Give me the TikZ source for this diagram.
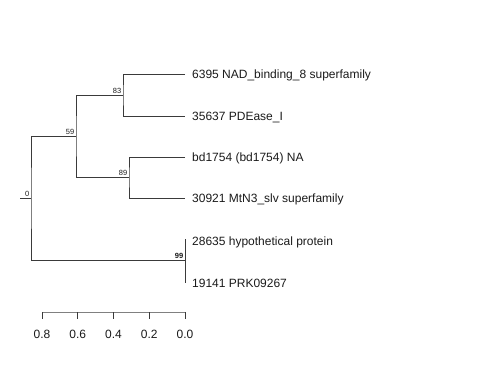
\documentclass[tikz,border=0pt]{standalone}
\usepackage{fontspec}
\setmainfont{Liberation Sans}
\usepackage{tikz}
\usetikzlibrary{positioning}
\definecolor{treeline}{HTML}{3A3A3A}
\definecolor{axisgray}{HTML}{808080}
\definecolor{labelcol}{HTML}{1A1A1A}

\begin{document}
\begin{tikzpicture}[x=1pt,y=-1pt,
  branch/.style={draw=treeline,line width=0.75pt},
  leaf/.style={anchor=west,inner sep=0pt,yshift=-1pt,font=\fontsize{12}{14}\selectfont,labelcol},
  boot/.style={anchor=south east,inner sep=1.5pt,font=\fontsize{7.5}{8}\selectfont,labelcol}]
\useasboundingbox (0,0) rectangle (480,384);

% internal nodes of the tree
\coordinate (root) at (31,198);
\coordinate (stub) at (20,198);
\coordinate (n59) at (76,136);
\coordinate (n83) at (123,95);
\coordinate (n89) at (129,177);
\coordinate (n99) at (185,260);

% tips
\coordinate (t1) at (185,74);
\coordinate (t2) at (185,116);
\coordinate (t3) at (185,157);
\coordinate (t4) at (185,198);
\coordinate (t5) at (185,239);
\coordinate (t6) at (185,283);
\coordinate (p5) at (185,241);
\coordinate (p6) at (185,282);

\node[leaf,right=7pt of t1] (l1) {6395 NAD\_binding\_8 superfamily};
\node[leaf,right=7pt of t2] (l2) {35637 PDEase\_I};
\node[leaf,right=7pt of t3] (l3) {bd1754 (bd1754) NA};
\node[leaf,right=7pt of t4] (l4) {30921 MtN3\_slv superfamily};
\node[leaf,right=7pt of p5] (l5) {28635 hypothetical protein};
\node[leaf,right=7pt of p6] (l6) {19141 PRK09267};

% branches
\draw[branch] (t1) -| (n83) |- (t2);
\draw[branch] (t3) -| (n89) |- (t4);
\draw[branch] (n83) -| (n59) |- (n89);
\draw[branch] (n59) -| (root) |- (n99);
\draw[branch] (t5) -- (t6);
\draw[branch] (stub) -- (root);

% support values
\node[boot] at (root) {0};
\node[boot] at (n59) {59};
\node[boot] at (n83) {83};
\node[boot] at (n89) {89};
\node[boot,font=\fontsize{7.5}{8}\selectfont\bfseries] at (n99) {99};

% scale
\coordinate (s0) at (42,312);
\coordinate (s1) at (185,312);
\draw[axisgray,line width=0.9pt] (s0) -- (s1);
\foreach \i/\lab in {0/0.8,1/0.6,2/0.4,3/0.2,4/0.0}{
  \draw[treeline,line width=0.75pt] ({42+\i*35.75},312) -- ++(0,7);
  \node[font=\fontsize{12}{14}\selectfont,labelcol] at ({42+\i*35.75},334) {\lab};
}

\end{tikzpicture}
\end{document}
